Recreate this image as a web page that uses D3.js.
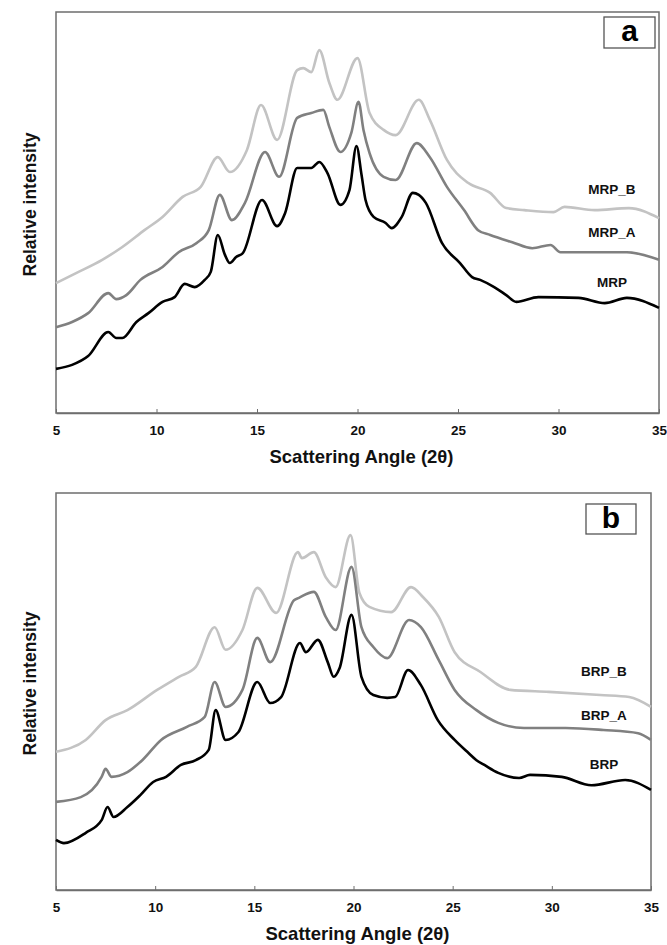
<!DOCTYPE html>
<html>
<head>
<meta charset="utf-8">
<script src="https://cdn.jsdelivr.net/npm/d3@7"></script>
<style>
  body { margin: 0; background: #fff; }
  svg { display: block; font-family: Arial, "Liberation Sans", sans-serif; }
</style>
</head>
<body>
<svg id="chart" width="667" height="945"></svg>
<script>
// x: scattering angle (2θ), y: relative intensity (arbitrary units, 0-100 of the frame)
const xTicks = [5, 10, 15, 20, 25, 30, 35];

const mrp = [[5,11.0],[5.8,12.0],[6.6,14.2],[7.6,20.2],[8.0,18.7],[8.3,18.7],[9.0,22.7],[9.6,24.9],[10.3,27.7],[10.9,28.9],[11.4,32.2],[11.9,31.4],[12.4,33.2],[12.7,35.2],[13.05,44.4],[13.4,39.5],[13.65,37.4],[13.96,38.9],[14.3,39.9],[15.25,53.1],[16.0,46.6],[16.4,49.9],[17.0,61.1],[17.7,61.1],[18.1,62.6],[18.5,59.9],[19.15,51.9],[19.6,55.6],[19.95,66.6],[20.2,59.4],[20.4,53.1],[20.8,48.9],[21.4,47.4],[21.7,46.1],[22.2,48.9],[22.75,54.9],[23.05,54.4],[23.4,52.4],[24.2,42.4],[25.1,37.4],[25.7,33.9],[26.1,33.2],[26.8,31.4],[27.4,29.4],[27.9,27.7],[29.0,28.9],[31.0,28.7],[32.3,27.4],[33.4,28.7],[35,26.2]];
const mrpA = [[5,21.4],[5.8,22.7],[6.6,24.9],[7.6,29.9],[8.0,28.4],[8.5,29.4],[9.2,33.2],[10.3,36.4],[11.1,40.1],[12.0,42.4],[12.6,45.6],[13.15,54.4],[13.75,48.1],[14.4,52.4],[15.4,65.1],[16.1,58.9],[17.0,73.6],[17.7,74.8],[18.3,75.6],[18.6,71.3],[19.15,65.1],[19.7,70.0],[20.05,77.6],[20.3,70.5],[20.6,64.8],[21.3,58.9],[21.9,58.1],[22.95,67.3],[23.6,63.8],[24.45,56.4],[25.3,50.6],[26.0,45.6],[26.6,44.4],[27.7,42.6],[28.7,41.1],[29.6,41.9],[30.1,40.1],[31.8,40.1],[33.4,40.1],[35,38.2]];
const mrpB = [[5,32.4],[6.0,34.9],[7.3,38.2],[8.3,41.4],[9.4,45.6],[10.3,48.9],[11.3,53.9],[12.2,56.4],[13.05,63.8],[13.65,60.1],[14.5,65.6],[15.2,76.8],[16.0,68.1],[17.0,85.5],[17.3,86.0],[17.7,85.0],[18.1,90.5],[18.6,82.3],[19.0,78.1],[20.0,88.5],[20.6,74.8],[21.3,70.6],[21.9,69.3],[23.05,78.1],[23.6,73.1],[24.45,63.1],[25.5,57.4],[26.6,54.9],[27.4,51.1],[28.3,50.6],[29.75,50.1],[30.3,51.4],[31.8,50.6],[33.5,51.1],[35,48.6]];

const brp = [[5,12.6],[5.4,11.8],[6.5,14.4],[7.3,17.6],[7.6,20.9],[7.9,18.4],[8.6,20.9],[9.25,23.9],[9.9,27.2],[10.55,28.5],[11.3,31.5],[12.05,32.7],[12.7,35.3],[13.05,45.3],[13.55,37.8],[14.2,39.8],[15.15,52.4],[15.8,47.1],[16.35,48.6],[17.3,62.2],[17.6,59.9],[18.2,63.0],[18.7,57.4],[19.0,53.7],[19.3,55.9],[19.9,69.3],[20.4,53.7],[21.0,49.1],[21.7,48.4],[22.1,48.6],[22.75,55.4],[23.4,51.6],[24.25,42.8],[25.1,37.8],[25.8,34.5],[26.2,32.7],[26.6,31.5],[27.3,29.5],[28.35,28.2],[28.9,29.0],[30.5,28.5],[32.0,26.4],[33.7,27.7],[35,25.2]];
const brpA = [[5,22.2],[6.25,23.4],[7.3,28.5],[7.5,30.5],[7.8,28.5],[8.6,29.7],[9.35,32.7],[10.3,37.8],[11.6,41.1],[12.5,43.6],[13.0,52.4],[13.55,46.1],[14.4,50.4],[15.15,63.5],[15.8,57.4],[17.0,73.0],[17.25,73.6],[18.0,75.1],[18.6,68.8],[19.1,65.5],[19.9,81.4],[20.4,66.2],[21.0,61.2],[21.7,58.4],[22.8,68.0],[23.4,66.2],[24.3,57.9],[25.1,50.4],[26.2,45.3],[27.3,42.1],[28.6,40.8],[30.7,40.8],[32.6,40.3],[34.35,39.5],[35,37.8]];
const brpB = [[5,34.8],[6.5,37.8],[7.5,42.8],[8.6,45.3],[10.1,50.4],[11.2,53.7],[12.05,56.2],[13.0,66.2],[13.55,60.5],[14.4,65.5],[15.15,76.1],[16.1,69.8],[17.2,85.1],[17.4,83.6],[18.0,85.1],[18.6,78.8],[19.1,76.3],[19.85,89.4],[20.3,74.8],[20.8,71.3],[21.9,70.0],[22.9,76.3],[23.5,73.8],[24.3,68.8],[25.1,59.9],[26.4,54.9],[27.9,50.4],[29.85,49.9],[32.45,49.1],[33.9,48.6],[35,46.1]];

const panels = [
  { letter: "a", box: { x0: 56, x1: 659, y0: 12, y1: 413 }, tag: { x: 604, y: 17, w: 51, h: 31 },
    series: [
      { name: "MRP_B", data: mrpB, color: "#c3c3c3", labelY: 55.6 },
      { name: "MRP_A", data: mrpA, color: "#808080", labelY: 44.9 },
      { name: "MRP",   data: mrp,   color: "#000000", labelY: 32.4 }
    ] },
  { letter: "b", box: { x0: 56, x1: 651, y0: 493, y1: 890 }, tag: { x: 586, y: 504, w: 50, h: 30 },
    series: [
      { name: "BRP_B", data: brpB, color: "#c3c3c3", labelY: 54.7 },
      { name: "BRP_A", data: brpA, color: "#808080", labelY: 43.6 },
      { name: "BRP",   data: brp,   color: "#000000", labelY: 31.5 }
    ] }
];

const svg = d3.select("#chart");

panels.forEach(p => {
  const b = p.box;
  const x = d3.scaleLinear().domain([5, 35]).range([b.x0, b.x1]);
  const y = d3.scaleLinear().domain([0, 100]).range([b.y1, b.y0]);
  const g = svg.append("g");

  // frame
  g.append("rect")
    .attr("x", b.x0).attr("y", b.y0)
    .attr("width", b.x1 - b.x0).attr("height", b.y1 - b.y0)
    .attr("fill", "none").attr("stroke", "#6e6e6e").attr("stroke-width", 1.5);

  // x axis
  const ax = g.append("g")
    .attr("transform", "translate(0," + b.y1 + ")")
    .call(d3.axisBottom(x).tickValues(xTicks).tickSizeInner(-4).tickSizeOuter(0).tickPadding(12));
  ax.select(".domain").attr("stroke", "#6e6e6e").attr("stroke-width", 1.5);
  ax.selectAll(".tick line").attr("stroke", "#6e6e6e");
  ax.selectAll(".tick text")
    .attr("font-size", 13.5).attr("font-weight", "bold").attr("fill", "#111");

  g.append("text")
    .attr("x", (b.x0 + b.x1) / 2 + 4).attr("y", b.y1 + 50)
    .attr("text-anchor", "middle")
    .attr("font-size", 18.5).attr("font-weight", "bold").attr("fill", "#111")
    .text("Scattering Angle (2θ)");

  g.append("text")
    .attr("transform", "translate(" + 36 + "," + ((b.y0 + b.y1) / 2 - 8) + ") rotate(-90)")
    .attr("text-anchor", "middle")
    .attr("font-size", 17.5).attr("font-weight", "bold").attr("fill", "#111")
    .text("Relative intensity");

  const line = d3.line()
    .x(d => x(d[0]))
    .y(d => y(d[1]))
    .curve(d3.curveMonotoneX);

  p.series.forEach(s => {
    g.append("path")
      .datum(s.data)
      .attr("d", line)
      .attr("fill", "none")
      .attr("stroke", s.color)
      .attr("stroke-width", 2.6)
      .attr("stroke-linejoin", "round");

    g.append("text")
      .attr("x", b.x1 - 47).attr("y", y(s.labelY))
      .attr("text-anchor", "middle")
      .attr("dominant-baseline", "middle")
      .attr("font-size", 13.5).attr("font-weight", "bold").attr("fill", "#111")
      .text(s.name);
  });

  // panel letter
  g.append("rect")
    .attr("x", p.tag.x).attr("y", p.tag.y)
    .attr("width", p.tag.w).attr("height", p.tag.h)
    .attr("fill", "#fff").attr("stroke", "#555").attr("stroke-width", 1.3);
  g.append("text")
    .attr("x", p.tag.x + p.tag.w / 2).attr("y", p.tag.y + p.tag.h / 2 + 1)
    .attr("text-anchor", "middle").attr("dominant-baseline", "middle")
    .attr("font-size", 30).attr("font-weight", "bold").attr("fill", "#000")
    .text(p.letter);
});
</script>
</body>
</html>
